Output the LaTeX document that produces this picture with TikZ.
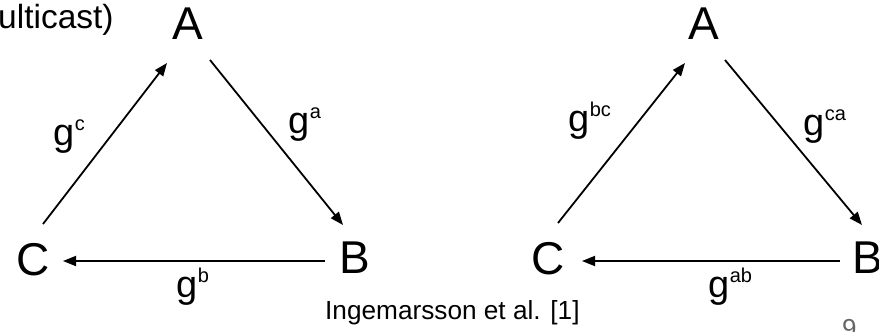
\documentclass[tikz,border=0pt]{standalone}
\usepackage{fontspec}
\setmainfont{Liberation Sans}
\usetikzlibrary{arrows.meta}
\newcommand\gsup[1]{g\raisebox{15pt}{\fontsize{20}{20}\selectfont #1}}
\tikzset{
  letter/.style={inner sep=0pt, anchor=center, font=\fontsize{46}{46}\selectfont},
  conn/.style={line width=1.8pt, -{Triangle[length=13pt,width=10pt]}},
  glbl/.style={inner sep=0pt, anchor=base west, font=\fontsize{38}{38}\selectfont},
  plain/.style={inner sep=0pt, anchor=base west},
}
\begin{document}
\begin{tikzpicture}[x=1pt,y=-1pt]
\useasboundingbox (0,0) rectangle (879,332);
% top-left cut text
\node[plain, font=\fontsize{33.5}{33.5}\selectfont] (title) at (-2,28) {ulticast)};
% left triangle
\node[letter] (A1) at (188,23.5) {A};
\node[letter] (C1) at (33,260) {C};
\node[letter] (B1) at (355,258) {B};
\draw[conn] ([shift={(10,-36)}]C1.center) -- ([shift={(-21,39.5)}]A1.center);
\draw[conn] ([shift={(22,36.5)}]A1.center) -- ([shift={(-12,-33)}]B1.center);
\draw[conn] ([shift={(-30,3)}]B1.center) -- ([shift={(30,1)}]C1.center);
\node[glbl] (gc) at (53.5,145) {\gsup{c}};
\node[glbl] (ga) at (288.5,133) {\gsup{a}};
\node[glbl] (gb) at (176.5,297) {\gsup{b}};
% right triangle
\node[letter] (A2) at (703.5,23.5) {A};
\node[letter] (C2) at (548,259) {C};
\node[letter] (B2) at (868,258) {B};
\draw[conn] ([shift={(10,-36)}]C2.center) -- ([shift={(-18.5,39.5)}]A2.center);
\draw[conn] ([shift={(21.5,36.5)}]A2.center) -- ([shift={(-6,-33)}]B2.center);
\draw[conn] ([shift={(-28,3)}]B2.center) -- ([shift={(34,2)}]C2.center);
\node[glbl] (gbc) at (568.5,131) {\gsup{bc}};
\node[glbl] (gca) at (803.5,135) {\gsup{ca}};
\node[glbl] (gab) at (708.5,297) {\gsup{ab}};
% footer
\node[plain, font=\fontsize{26.2}{26.2}\selectfont] (cite) at (325,319) {Ingemarsson et al. [1]};
\node[plain, font=\fontsize{26}{26}\selectfont, text=black!60] (page) at (842,337) {9};
\end{tikzpicture}
\end{document}
